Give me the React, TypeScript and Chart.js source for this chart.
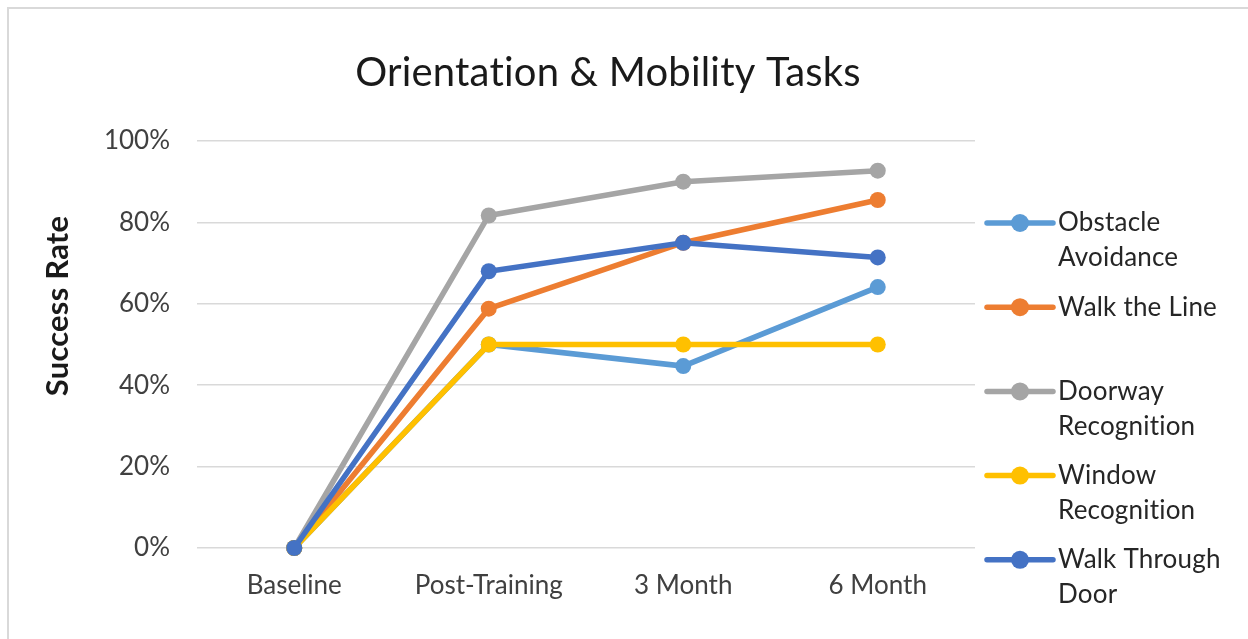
import React, { useEffect, useRef } from "react";
import { Chart, registerables } from "chart.js";

Chart.register(...registerables);

const categories = ["Baseline", "Post-Training", "3 Month", "6 Month"];
const seriesNames = [
  "Obstacle Avoidance",
  "Walk the Line",
  "Doorway Recognition",
  "Window Recognition",
  "Walk Through Door",
];
const obstacleAvoidance = [0, 50, 44.7, 64.1];
const walkTheLine = [0, 58.8, 75, 85.5];
const doorwayRecognition = [0, 81.7, 90, 92.7];
const windowRecognition = [0, 50, 50, 50];
const walkThroughDoor = [0, 68, 75, 71.4];
const seriesColors = ["#5B9BD5", "#ED7D31", "#A5A5A5", "#FFC000", "#4472C4"];
const yTicks = [0, 20, 40, 60, 80, 100];
const chartTitle = "Orientation & Mobility Tasks";
const yAxisTitle = "Success Rate";

const FONT = "Lato, 'Open Sans', sans-serif";

function wrapText(ctx: CanvasRenderingContext2D, text: string, maxW: number): string[] {
  const words = text.split(" ");
  const lines: string[] = [];
  let cur = "";
  for (const w of words) {
    const t = cur ? cur + " " + w : w;
    if (ctx.measureText(t).width > maxW && cur) {
      lines.push(cur);
      cur = w;
    } else cur = t;
  }
  if (cur) lines.push(cur);
  return lines;
}

const decorPlugin = {
  id: "decor",
  afterDraw(chart: any) {
    const ctx: any = chart.ctx;
    const area = chart.chartArea;
    ctx.save();
    ctx.letterSpacing = "0.2px";
    // Title
    ctx.fillStyle = "#1a1a1a";
    ctx.font = `40px ${FONT}`;
    ctx.textAlign = "center";
    ctx.textBaseline = "middle";
    ctx.fillText(chartTitle, area.left + 411, area.top - 68);
    // Y axis title
    ctx.save();
    ctx.translate(49, area.top + 165);
    ctx.rotate(-Math.PI / 2);
    ctx.font = `bold 31px ${FONT}`;
    ctx.fillStyle = "#1a1a1a";
    ctx.fillText(yAxisTitle, 0, 0);
    ctx.restore();
    // Legend
    ctx.font = `26px ${FONT}`;
    ctx.textAlign = "left";
    ctx.textBaseline = "middle";
    const lx0 = area.right + 12;
    const lx1 = area.right + 78;
    const tx = area.right + 83;
    seriesNames.forEach((name, i) => {
      const y = area.top + 82 + i * 84.2;
      const c = seriesColors[i];
      ctx.strokeStyle = c;
      ctx.lineWidth = 5.5;
      ctx.lineCap = "round";
      ctx.beginPath();
      ctx.moveTo(lx0, y);
      ctx.lineTo(lx1, y);
      ctx.stroke();
      ctx.fillStyle = c;
      ctx.beginPath();
      ctx.arc((lx0 + lx1) / 2, y, 9, 0, Math.PI * 2);
      ctx.fill();
      ctx.fillStyle = "#262626";
      const lines = wrapText(ctx, name, 190);
      lines.forEach((ln, j) => ctx.fillText(ln, tx, y + j * 35));
    });
    ctx.restore();
  },
};

export default function App() {
  const ref = useRef<HTMLCanvasElement>(null);
  useEffect(() => {
    if (!ref.current) return;
    const data = [obstacleAvoidance, walkTheLine, doorwayRecognition, windowRecognition, walkThroughDoor];
    const chart = new Chart(ref.current, {
      type: "line",
      data: {
        labels: categories,
        datasets: seriesNames.map((n, i) => ({
          label: n,
          data: data[i],
          borderColor: seriesColors[i],
          backgroundColor: seriesColors[i],
          pointBackgroundColor: seriesColors[i],
          pointBorderColor: seriesColors[i],
          borderWidth: 5.5,
          pointRadius: 8,
          pointBorderWidth: 0,
          tension: 0,
          clip: false as any,
          order: -i,
        })),
      },
      options: {
        animation: false,
        responsive: false,
        maintainAspectRatio: false,
        layout: { padding: { left: 0, right: 273, top: 132, bottom: 0 } },
        plugins: {
          legend: { display: false },
          title: { display: false },
          tooltip: { enabled: false },
        },
        scales: {
          x: {
            offset: true,
            grid: { display: false, drawTicks: false },
            border: { display: false },
            ticks: { color: "#404040", font: { family: FONT, size: 26 }, padding: 22, maxRotation: 0 },
            afterFit: (s: any) => { s.height = 91; },
          },
          y: {
            min: 0,
            max: 100,
            afterBuildTicks: (s: any) => { s.ticks = yTicks.map((v) => ({ value: v })); },
            grid: { color: "#D9D9D9", lineWidth: 1.5, drawTicks: false },
            border: { display: false },
            ticks: {
              color: "#404040",
              font: { family: FONT, size: 26 },
              padding: 27,
              callback: (v: any) => v + "%",
            },
            afterFit: (s: any) => { s.width = 188; },
          },
        },
      },
      plugins: [decorPlugin],
    });
    return () => chart.destroy();
  }, []);
  return (
    <div
      style={{
        position: "absolute",
        left: 7,
        top: 7,
        width: 1260,
        height: 650,
        border: "2px solid #D9D9D9",
        boxSizing: "border-box",
        background: "#fff",
      }}
    >
      <canvas ref={ref} width={1239} height={630} style={{ display: "block" }} />
    </div>
  );
}
